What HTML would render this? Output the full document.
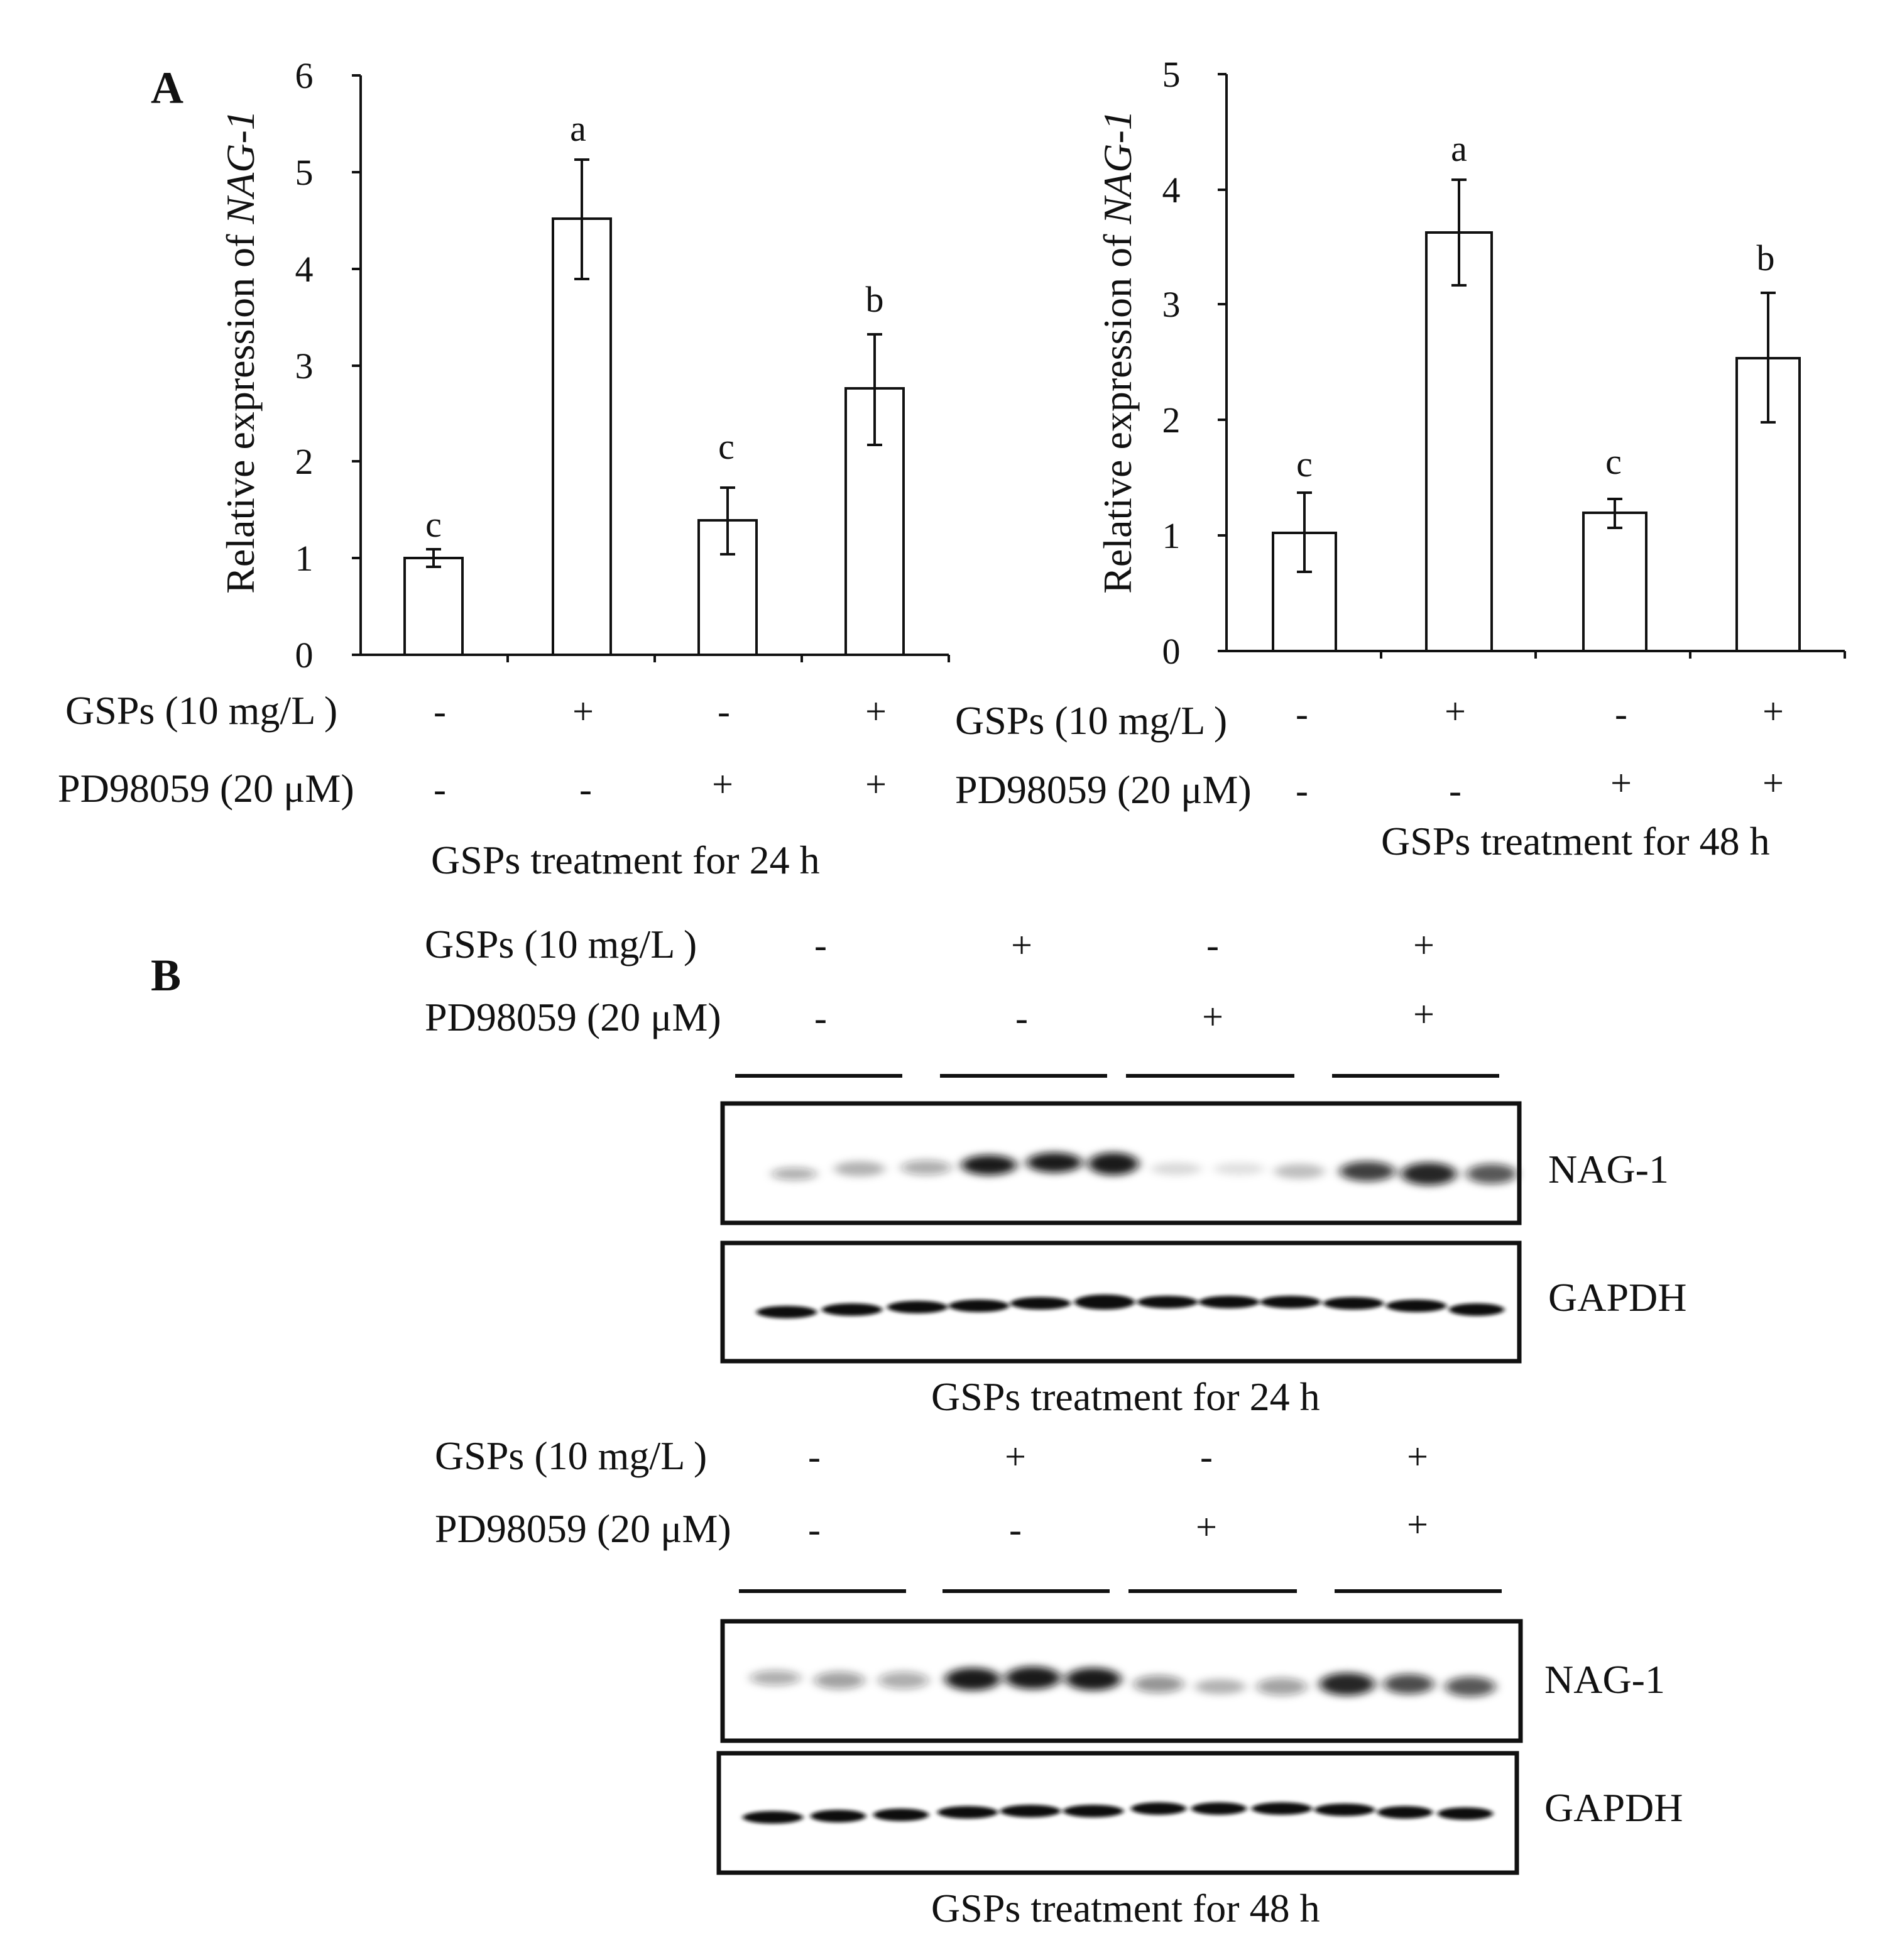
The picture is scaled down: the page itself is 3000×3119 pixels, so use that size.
<!DOCTYPE html>
<html><head><meta charset="utf-8"><style>
html,body{margin:0;padding:0;background:#fff}
svg{display:block}
text{font-family:"Liberation Serif",serif;fill:#111}
</style></head><body>
<svg width="3000" height="3119" viewBox="0 0 1500 1559.5" xmlns="http://www.w3.org/2000/svg">
<defs>
<filter id="bl" x="-50%" y="-100%" width="200%" height="300%"><feGaussianBlur stdDeviation="4 3"/></filter>
<filter id="bl2" x="-50%" y="-100%" width="200%" height="300%"><feGaussianBlur stdDeviation="2 1.5"/></filter>
</defs>
<g font-weight="bold"><text x="120" y="82" font-size="36">A</text><text x="120" y="788" font-size="36">B</text></g>

<!-- Chart 1 -->
<g stroke="#111" stroke-width="2" fill="none">
<line x1="287" y1="60" x2="287" y2="521"/>
<line x1="287" y1="521" x2="755" y2="521"/>
<line x1="280" y1="60" x2="287" y2="60"/><line x1="280" y1="137" x2="287" y2="137"/><line x1="280" y1="214" x2="287" y2="214"/><line x1="280" y1="291" x2="287" y2="291"/><line x1="280" y1="367" x2="287" y2="367"/><line x1="280" y1="444" x2="287" y2="444"/><line x1="280" y1="521" x2="287" y2="521"/>
<line x1="404" y1="521" x2="404" y2="527"/><line x1="521" y1="521" x2="521" y2="527"/><line x1="638" y1="521" x2="638" y2="527"/><line x1="755" y1="521" x2="755" y2="527"/>
<rect x="322" y="444" width="46" height="77"/>
<rect x="440" y="174" width="46" height="347"/>
<rect x="556" y="414" width="46" height="107"/>
<rect x="673" y="309" width="46" height="212"/>
<path d="M345 437V451M339 437H351M339 451H351"/>
<path d="M463 127V222M457 127H469M457 222H469"/>
<path d="M579 388V441M573 388H585M573 441H585"/>
<path d="M696 266V354M690 266H702M690 354H702"/>
</g>
<g font-size="29" text-anchor="middle">
<text x="242" y="70">6</text><text x="242" y="147">5</text><text x="242" y="224">4</text><text x="242" y="301">3</text><text x="242" y="377">2</text><text x="242" y="454">1</text><text x="242" y="531">0</text>
<text x="345" y="427">c</text><text x="460" y="112">a</text><text x="578" y="365">c</text><text x="696" y="248">b</text>
</g>
<text transform="translate(202,280) rotate(-90)" font-size="32" text-anchor="middle">Relative expression of <tspan font-style="italic">NAG-1</tspan></text>

<!-- Chart 2 -->
<g stroke="#111" stroke-width="2" fill="none">
<line x1="976" y1="59" x2="976" y2="518"/>
<line x1="976" y1="518" x2="1468" y2="518"/>
<line x1="969" y1="59" x2="976" y2="59"/><line x1="969" y1="151" x2="976" y2="151"/><line x1="969" y1="242" x2="976" y2="242"/><line x1="969" y1="334" x2="976" y2="334"/><line x1="969" y1="426" x2="976" y2="426"/><line x1="969" y1="518" x2="976" y2="518"/>
<line x1="1099" y1="518" x2="1099" y2="524"/><line x1="1222" y1="518" x2="1222" y2="524"/><line x1="1345" y1="518" x2="1345" y2="524"/><line x1="1468" y1="518" x2="1468" y2="524"/>
<rect x="1013" y="424" width="50" height="94"/>
<rect x="1135" y="185" width="52" height="333"/>
<rect x="1260" y="408" width="50" height="110"/>
<rect x="1382" y="285" width="50" height="233"/>
<path d="M1038 392V455M1032 392H1044M1032 455H1044"/>
<path d="M1161 143V227M1155 143H1167M1155 227H1167"/>
<path d="M1285 397V420M1279 397H1291M1279 420H1291"/>
<path d="M1407 233V336M1401 233H1413M1401 336H1413"/>
</g>
<g font-size="29" text-anchor="middle">
<text x="932" y="69">5</text><text x="932" y="161">4</text><text x="932" y="252">3</text><text x="932" y="344">2</text><text x="932" y="436">1</text><text x="932" y="528">0</text>
<text x="1038" y="379">c</text><text x="1161" y="128">a</text><text x="1284" y="377">c</text><text x="1405" y="215">b</text>
</g>
<text transform="translate(900,280) rotate(-90)" font-size="32" text-anchor="middle">Relative expression of <tspan font-style="italic">NAG-1</tspan></text>

<!-- Tables A -->
<g font-size="32">
<text x="52" y="576">GSPs (10 mg/L )</text>
<text x="46" y="638">PD98059 (20 μM)</text>
<text x="343" y="695">GSPs treatment for 24 h</text>
<text x="760" y="584">GSPs (10 mg/L )</text>
<text x="760" y="639">PD98059 (20 μM)</text>
<text x="1099" y="680">GSPs treatment for 48 h</text>
</g>
<g font-size="30" text-anchor="middle">
<text x="350" y="576">-</text><text x="464" y="576">+</text><text x="576" y="576">-</text><text x="697" y="576">+</text>
<text x="350" y="638">-</text><text x="466" y="638">-</text><text x="575" y="634">+</text><text x="697" y="634">+</text>
<text x="1036" y="578">-</text><text x="1158" y="576">+</text><text x="1290" y="578">-</text><text x="1411" y="576">+</text>
<text x="1036" y="639">-</text><text x="1158" y="639">-</text><text x="1290" y="633">+</text><text x="1411" y="633">+</text>
</g>

<!-- B tables -->
<g font-size="32">
<text x="338" y="762">GSPs (10 mg/L )</text>
<text x="338" y="820">PD98059 (20 μM)</text>
<text x="741" y="1122">GSPs treatment for 24 h</text>
<text x="346" y="1169">GSPs (10 mg/L )</text>
<text x="346" y="1227">PD98059 (20 μM)</text>
<text x="741" y="1529">GSPs treatment for 48 h</text>
<text x="1232" y="941">NAG-1</text>
<text x="1232" y="1043">GAPDH</text>
<text x="1229" y="1347">NAG-1</text>
<text x="1229" y="1449">GAPDH</text>
</g>
<g font-size="30" text-anchor="middle">
<text x="653" y="762">-</text><text x="813" y="762">+</text><text x="965" y="762">-</text><text x="1133" y="762">+</text>
<text x="653" y="820">-</text><text x="813" y="820">-</text><text x="965" y="819">+</text><text x="1133" y="817">+</text>
<text x="648" y="1169">-</text><text x="808" y="1169">+</text><text x="960" y="1169">-</text><text x="1128" y="1169">+</text>
<text x="648" y="1227">-</text><text x="808" y="1227">-</text><text x="960" y="1225">+</text><text x="1128" y="1223">+</text>
</g>
<g stroke="#111" stroke-width="3">
<line x1="585" y1="856" x2="718" y2="856"/><line x1="748" y1="856" x2="881" y2="856"/><line x1="896" y1="856" x2="1030" y2="856"/><line x1="1060" y1="856" x2="1193" y2="856"/>
<line x1="588" y1="1266" x2="721" y2="1266"/><line x1="750" y1="1266" x2="883" y2="1266"/><line x1="898" y1="1266" x2="1032" y2="1266"/><line x1="1062" y1="1266" x2="1195" y2="1266"/>
</g>

<!-- Blot 1 NAG-1 24h -->
<g filter="url(#bl)" fill="#111">
<ellipse cx="632" cy="934" rx="18" ry="5" opacity="0.35"/>
<ellipse cx="684" cy="930" rx="20" ry="6" opacity="0.3"/>
<ellipse cx="737" cy="929" rx="20" ry="6" opacity="0.35"/>
<ellipse cx="787" cy="927" rx="22" ry="8" opacity="0.95"/>
<ellipse cx="839" cy="925" rx="22" ry="8" opacity="0.95"/>
<ellipse cx="886" cy="926" rx="20" ry="9" opacity="0.95"/>
<ellipse cx="936" cy="930" rx="20" ry="5" opacity="0.15"/>
<ellipse cx="986" cy="930" rx="20" ry="5" opacity="0.12"/>
<ellipse cx="1034" cy="932" rx="20" ry="6" opacity="0.25"/>
<ellipse cx="1088" cy="932" rx="22" ry="8" opacity="0.8"/>
<ellipse cx="1137" cy="934" rx="22" ry="9" opacity="0.9"/>
<ellipse cx="1187" cy="934" rx="20" ry="8" opacity="0.7"/>
</g>
<g filter="url(#bl2)" fill="#111">
<ellipse cx="626" cy="1044" rx="24" ry="5"/><ellipse cx="678" cy="1042" rx="24" ry="5"/><ellipse cx="730" cy="1040" rx="24" ry="5"/>
<ellipse cx="779" cy="1039" rx="24" ry="5"/><ellipse cx="828" cy="1037" rx="24" ry="5"/><ellipse cx="879" cy="1036" rx="24" ry="6"/>
<ellipse cx="929" cy="1036" rx="24" ry="5"/><ellipse cx="978" cy="1036" rx="24" ry="5"/><ellipse cx="1027" cy="1036" rx="24" ry="5"/>
<ellipse cx="1077" cy="1037" rx="24" ry="5"/><ellipse cx="1127" cy="1039" rx="24" ry="5"/><ellipse cx="1175" cy="1042" rx="22" ry="5"/>
</g>
<!-- Blot 48h -->
<g filter="url(#bl)" fill="#111">
<ellipse cx="617" cy="1335" rx="20" ry="6" opacity="0.35"/>
<ellipse cx="668" cy="1337" rx="20" ry="7" opacity="0.4"/>
<ellipse cx="719" cy="1337" rx="20" ry="7" opacity="0.35"/>
<ellipse cx="774" cy="1336" rx="22" ry="9" opacity="0.95"/>
<ellipse cx="822" cy="1335" rx="22" ry="9" opacity="0.95"/>
<ellipse cx="870" cy="1336" rx="22" ry="9" opacity="0.95"/>
<ellipse cx="922" cy="1340" rx="20" ry="7" opacity="0.45"/>
<ellipse cx="971" cy="1342" rx="20" ry="6" opacity="0.3"/>
<ellipse cx="1020" cy="1342" rx="20" ry="7" opacity="0.4"/>
<ellipse cx="1072" cy="1340" rx="22" ry="9" opacity="0.9"/>
<ellipse cx="1121" cy="1340" rx="20" ry="8" opacity="0.75"/>
<ellipse cx="1170" cy="1342" rx="20" ry="8" opacity="0.7"/>
</g>
<g filter="url(#bl2)" fill="#111">
<ellipse cx="615" cy="1446" rx="24" ry="5"/><ellipse cx="667" cy="1445" rx="22" ry="5"/><ellipse cx="717" cy="1444" rx="22" ry="5"/>
<ellipse cx="770" cy="1442" rx="24" ry="5"/><ellipse cx="820" cy="1441" rx="24" ry="5"/><ellipse cx="870" cy="1441" rx="24" ry="5"/>
<ellipse cx="922" cy="1439" rx="22" ry="5"/><ellipse cx="970" cy="1439" rx="22" ry="5"/><ellipse cx="1020" cy="1439" rx="24" ry="5"/>
<ellipse cx="1070" cy="1440" rx="24" ry="5"/><ellipse cx="1118" cy="1442" rx="22" ry="5"/><ellipse cx="1166" cy="1443" rx="22" ry="5"/>
</g>
<g stroke="#111" stroke-width="3.5" fill="none">
<rect x="575" y="878" width="634" height="95"/>
<rect x="575" y="989" width="634" height="94"/>
<rect x="575" y="1290" width="635" height="95"/>
<rect x="572" y="1395" width="635" height="95"/>
</g>
</svg>
</body></html>
